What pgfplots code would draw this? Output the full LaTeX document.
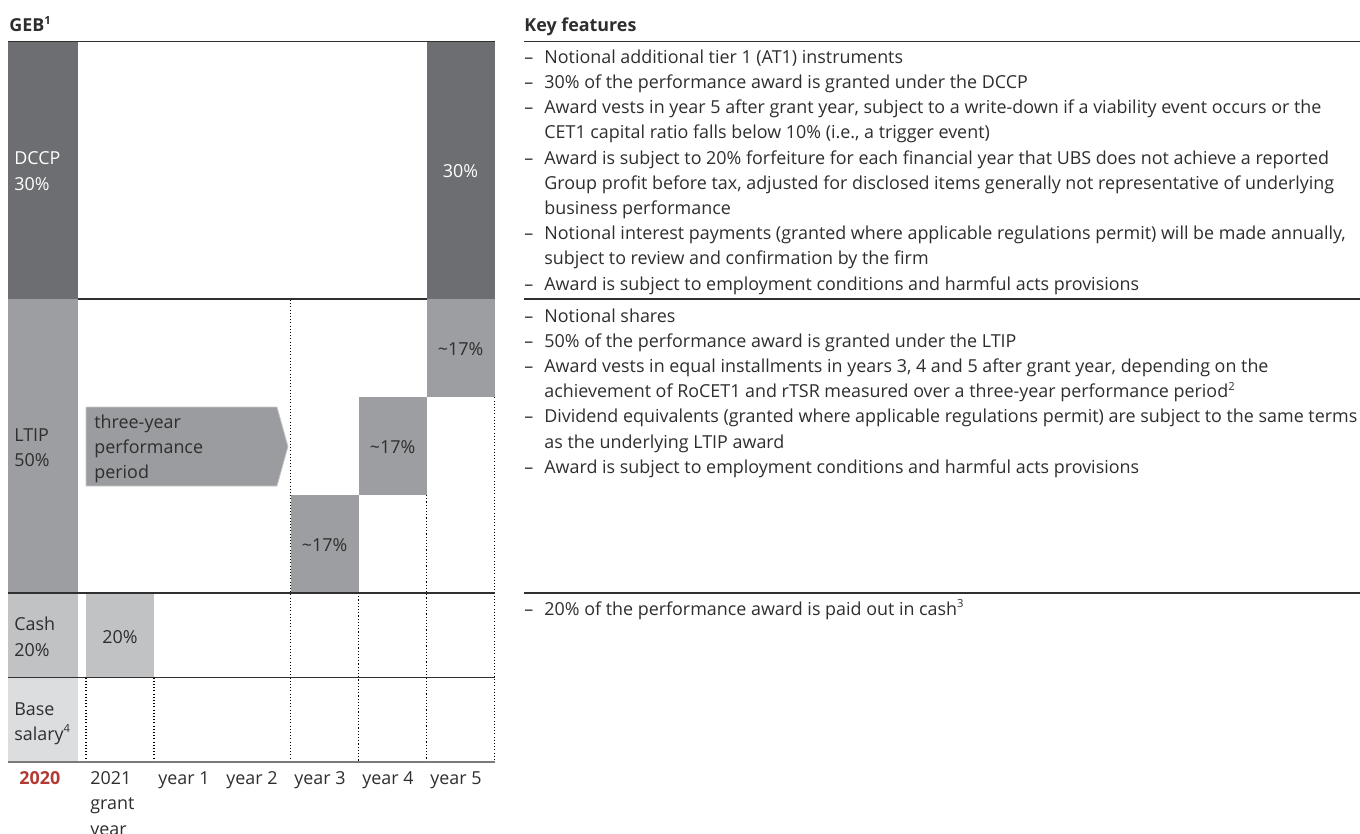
\documentclass[border=0pt]{standalone}
\usepackage{fontspec}
\setmainfont{Open Sans}
\usepackage{pgfplots}
\pgfplotsset{compat=1.18}
\definecolor{dccp}{HTML}{6D6E71}
\definecolor{ltip}{HTML}{9D9EA1}
\definecolor{cashc}{HTML}{C1C2C4}
\definecolor{basec}{HTML}{DCDDDF}
\definecolor{arrowc}{HTML}{9B9C9F}
\definecolor{arrowe}{HTML}{C9CACC}
\definecolor{txt}{HTML}{2E2E2E}
\definecolor{redc}{HTML}{B23A33}
\definecolor{rulec}{HTML}{303030}
\definecolor{rulel}{HTML}{7A7A7A}

\newcommand\supx[1]{\raisebox{0.42em}{\fontsize{5.6pt}{6pt}\selectfont #1}}
\newcommand\rect[5]{\addplot[fill=#1,draw=none] coordinates {(#2,#3) (#4,#3) (#4,#5) (#2,#5)} -- cycle;}
\newcommand\hl[4]{\addplot[#1, line width=0.6pt] coordinates {(#2,#4) (#3,#4)};}
\newcommand\vd[3]{\addplot[black, line width=0.7pt, dash pattern=on 0.55pt off 1.05pt] coordinates {(#1,#2) (#1,#3)};}
\newcommand\tx[3]{\node[anchor=base west, inner sep=0pt, text=txt] at (axis cs:#1,#2) {#3};}
\newcommand\tw[3]{\node[anchor=base west, inner sep=0pt, text=white] at (axis cs:#1,#2) {#3};}
\newcommand\tc[3]{\node[anchor=base, inner sep=0pt, text=txt] at (axis cs:#1,#2) {#3};}
\newcommand\bl[2]{\tx{524}{#1}{–}\tx{544}{#1}{#2}}
\newcommand\cl[2]{\tx{544}{#1}{#2}}

\begin{document}
\fontsize{8.95pt}{12.6pt}\selectfont
\begin{tikzpicture}
\begin{axis}[
  at={(0,0)}, anchor=south west,
  scale only axis, width=680pt, height=417pt,
  xmin=0, xmax=1360, ymin=0, ymax=834, y dir=reverse,
  hide axis, clip=false]
% ---- bars / blocks (pixel units, y downward)
\rect{dccp}{8}{41.5}{78.3}{299}
\rect{dccp}{426.7}{41.5}{494.5}{299}
\rect{ltip}{8}{299}{78.3}{593}
\rect{ltip}{426.7}{299}{494.5}{397.3}
\rect{ltip}{358.7}{397.3}{426.7}{495}
\rect{ltip}{290.7}{495}{358.7}{593}
\rect{cashc}{8}{593}{78.3}{677.5}
\rect{cashc}{86}{593}{154}{677.5}
\rect{basec}{8}{677.5}{78.3}{762}
% three-year performance period arrow
\addplot[fill=arrowc, draw=arrowe, line width=0.4pt] coordinates {(86,407) (277,407) (288,446.5) (277,486) (86,486)} -- cycle;
% ---- dotted verticals
\vd{290.7}{300}{762}
\vd{358.7}{593}{762}
\vd{426.7}{495}{762}
\vd{494.5}{397.3}{762}
\vd{86}{677.5}{762}
\vd{154}{677.5}{762}
% ---- rules
\hl{rulec}{8}{495}{41.5}
\hl{rulec}{524}{1360}{41.5}
\hl{rulec}{78.3}{426.7}{299}
\hl{rulec}{524}{1360}{299}
\hl{rulec}{8}{495}{593}
\hl{rulec}{524}{1360}{593}
\hl{rulec}{8}{495}{677.5}
\hl{rulel}{8}{495}{762}
% ---- headers
\tx{9}{32}{\bfseries GEB\supx{1}}
\tx{524}{31.5}{\bfseries Key features}
% ---- left labels
\tw{14}{165}{DCCP}
\tw{14}{190.5}{30\%}
\node[anchor=base, inner sep=0pt, text=white] at (axis cs:460.5,178) {30\%};
\tx{14}{441.7}{LTIP}
\tx{14}{466}{50\%}
\tx{94}{428.3}{three-year}
\tx{94}{453.3}{performance}
\tx{94}{478.3}{period}
\tc{460.5}{355.7}{\textasciitilde 17\%}
\tc{392.7}{453}{\textasciitilde 17\%}
\tc{324.7}{551.7}{\textasciitilde 17\%}
\tx{14}{630}{Cash}
\tx{14}{656}{20\%}
\tc{120}{643}{20\%}
\tx{14}{715}{Base}
\tx{14}{740}{salary\supx{4}}
% ---- bottom labels
\node[anchor=base west, inner sep=0pt, text=redc] at (axis cs:19,784) {\bfseries 2020};
\tx{90}{784}{2021}
\tx{90}{809.5}{grant}
\tx{90}{835}{year}
\tx{158}{784}{year 1}
\tx{226}{784}{year 2}
\tx{294}{784}{year 3}
\tx{362}{784}{year 4}
\tx{430}{784}{year 5}
% ---- key features: DCCP
\bl{63.3}{Notional additional tier 1 (AT1) instruments}
\bl{88.5}{30\% of the performance award is granted under the DCCP}
\bl{113.7}{Award vests in year 5 after grant year, subject to a write-down if a viability event occurs or the}
\cl{138.9}{CET1 capital ratio falls below 10\% (i.e., a trigger event)}
\bl{164.1}{Award is subject to 20\% forfeiture for each financial year that UBS does not achieve a reported}
\cl{189.3}{Group profit before tax, adjusted for disclosed items generally not representative of underlying}
\cl{214.5}{business performance}
\bl{239.7}{Notional interest payments (granted where applicable regulations permit) will be made annually,}
\cl{264.9}{subject to review and confirmation by the firm}
\bl{290.1}{Award is subject to employment conditions and harmful acts provisions}
% ---- key features: LTIP
\bl{322}{Notional shares}
\bl{347.2}{50\% of the performance award is granted under the LTIP}
\bl{372.4}{Award vests in equal installments in years 3, 4 and 5 after grant year, depending on the}
\cl{397.6}{achievement of RoCET1 and rTSR measured over a three-year performance period\supx{2}}
\bl{422.8}{Dividend equivalents (granted where applicable regulations permit) are subject to the same terms}
\cl{448}{as the underlying LTIP award}
\bl{473.2}{Award is subject to employment conditions and harmful acts provisions}
% ---- key features: Cash
\bl{615}{20\% of the performance award is paid out in cash\supx{3}}
\end{axis}
\pgfresetboundingbox
\useasboundingbox (0,0) rectangle (680pt,417pt);
\end{tikzpicture}
\end{document}
